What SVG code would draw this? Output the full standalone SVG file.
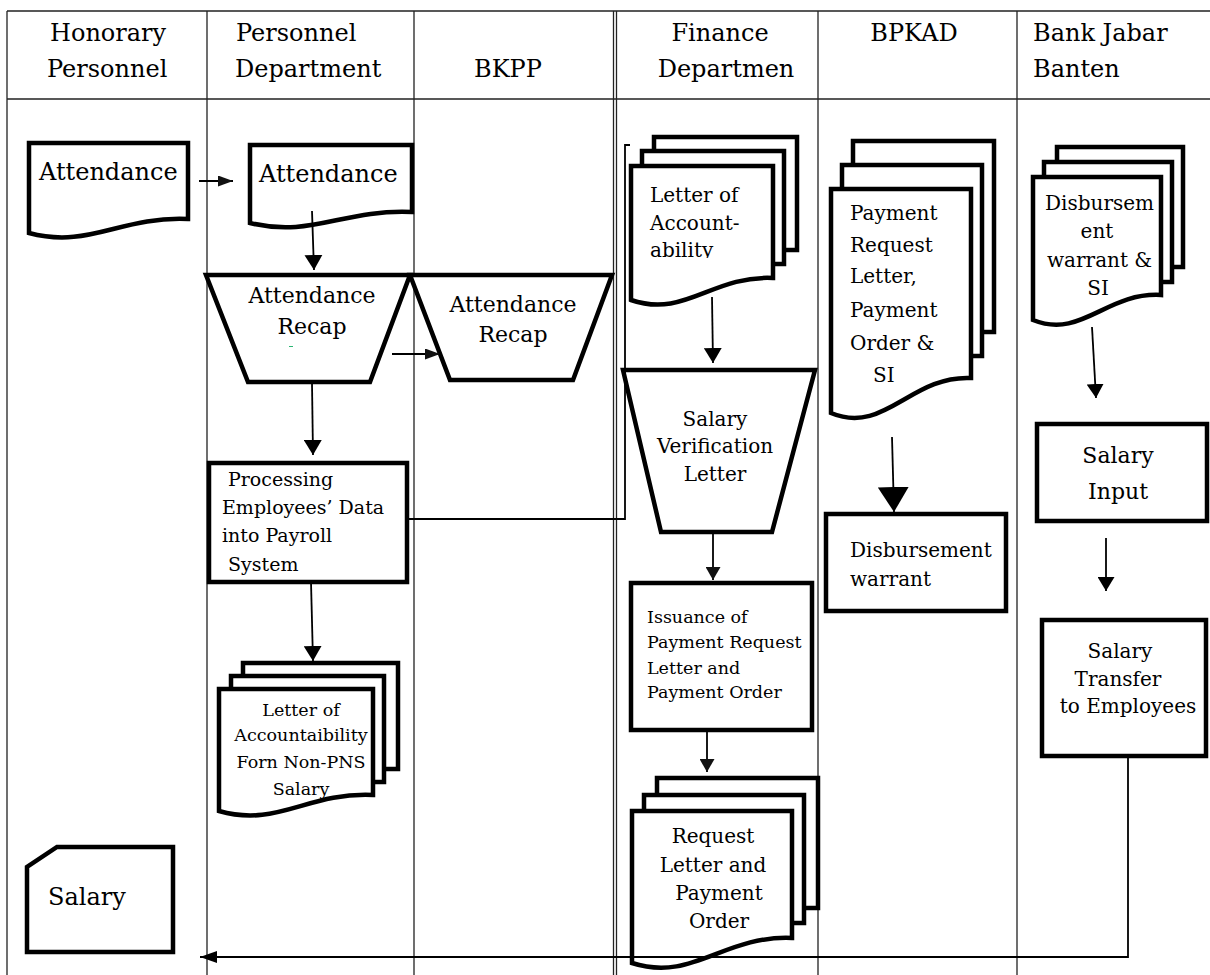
<svg xmlns="http://www.w3.org/2000/svg" width="1210" height="975" viewBox="0 0 1210 975">
<style>
.tbl{stroke:#222;stroke-width:1.3;fill:none}
.sh{fill:#fff;stroke:#000;stroke-width:4.5;stroke-linejoin:miter}
.cn{stroke:#000;stroke-width:1.8;fill:none}
text{font-family:"DejaVu Serif","Liberation Serif",serif;fill:#000}
.h{font-size:24px}
.t24{font-size:24px}
.t22{font-size:22px}
.t20{font-size:20px}
.t19{font-size:19px}
.t17{font-size:17.5px}
.m{text-anchor:middle}
</style>
<defs>
<marker id="aL" markerUnits="userSpaceOnUse" viewBox="0 0 15 18" markerWidth="15" markerHeight="18" refX="15" refY="9" orient="auto"><path d="M0,0 L15,9 L0,18 Z" fill="#000"/></marker>
<marker id="aS" markerUnits="userSpaceOnUse" viewBox="0 0 15 11" markerWidth="15" markerHeight="11" refX="15" refY="5.5" orient="auto"><path d="M0,0 L15,5.5 L0,11 Z" fill="#111"/></marker>
<marker id="aSm" markerUnits="userSpaceOnUse" viewBox="0 0 13 15" markerWidth="13" markerHeight="15" refX="13" refY="7.5" orient="auto"><path d="M0,0 L13,7.5 L0,15 Z" fill="#111"/></marker>
<marker id="aM" markerUnits="userSpaceOnUse" viewBox="0 0 14 17" markerWidth="14" markerHeight="17" refX="14" refY="8.5" orient="auto"><path d="M0,0 L14,8.5 L0,17 Z" fill="#000"/></marker>
<marker id="aB" markerUnits="userSpaceOnUse" viewBox="0 0 17 12" markerWidth="17" markerHeight="12" refX="17" refY="6" orient="auto"><path d="M0,0 L17,6 L0,12 Z" fill="#000"/></marker>
<marker id="aXL" markerUnits="userSpaceOnUse" viewBox="0 0 25 31" markerWidth="25" markerHeight="31" refX="25" refY="15.5" orient="auto"><path d="M0,0 L25,15.5 L0,31 Z" fill="#000"/></marker>
<clipPath id="clipLoA"><rect x="631" y="150" width="142" height="108"/></clipPath>
</defs>

<g id="table">
<path class="tbl" d="M7,11 H1210 M7,99 H1210 M7,11 V975 M207,11 V975 M414,11 V975 M613.5,11 V975 M616.5,11 V975 M818,11 V975 M1017,11 V975"/>
<text class="h" x="50" y="41">Honorary</text>
<text class="h" x="47" y="77">Personnel</text>
<text class="h" x="236" y="41">Personnel</text>
<text class="h" x="235" y="77">Department</text>
<text class="h" x="474" y="77">BKPP</text>
<text class="h m" x="720" y="41">Finance</text>
<text class="h m" x="726" y="77">Departmen</text>
<text class="h m" x="914" y="41">BPKAD</text>
<text class="h" x="1033" y="41">Bank Jabar</text>
<text class="h" x="1033" y="77">Banten</text>
</g>

<g id="n-attendance-honorary">
<path class="sh" d="M29,143 H188 V219 C119.6,216 89.4,249 29,233 Z"/>
<text class="t24" x="39" y="180">Attendance</text>
</g>

<g id="n-salary">
<path class="sh" d="M57,847 H173 V952 H27 V867 Z"/>
<text class="t24" x="48" y="905">Salary</text>
</g>

<g id="n-attendance-personnel">
<path class="sh" d="M250,145 H412 V212 C342.3,209 311.6,238 250,223 Z"/>
<text class="t24" x="259" y="182">Attendance</text>
</g>

<g id="n-recap-personnel">
<path class="sh" d="M206,275 H410 L370,382 H248 Z"/>
<text class="t22 m" x="312" y="303">Attendance</text>
<text class="t22 m" x="312" y="334">Recap</text>
<path d="M289,346.5 H293" stroke="#2bb673" stroke-width="1"/>
</g>

<g id="n-processing">
<rect class="sh" x="209" y="463" width="198" height="119"/>
<text class="t19" x="228" y="486">Processing</text>
<text class="t19" x="222" y="514">Employees’ Data</text>
<text class="t19" x="222" y="542">into Payroll</text>
<text class="t19" x="228" y="571">System</text>
</g>

<g id="n-loa-personnel">
<rect class="sh" x="243" y="663" width="155" height="106"/>
<rect class="sh" x="231" y="676" width="153" height="106"/>
<path class="sh" d="M219,689 H373 V795 C306.8,792 277.5,827.8 219,811 Z"/>
<text class="t17 m" x="301" y="716">Letter of</text>
<text class="t17 m" x="301" y="741">Accountaibility</text>
<text class="t17 m" x="301" y="768">Forn Non-PNS</text>
<text class="t17 m" x="301" y="795">Salary</text>
</g>

<g id="n-recap-bkpp">
<path class="sh" d="M410,275 H612 L573,380 H450 Z"/>
<text class="t22 m" x="513" y="312">Attendance</text>
<text class="t22 m" x="513" y="342">Recap</text>
</g>

<g id="n-loa-finance">
<rect class="sh" x="654" y="137" width="143" height="113"/>
<rect class="sh" x="642" y="151" width="142" height="113"/>
<path class="sh" d="M631,166 H773 V278 C712,275 685,318.6 631,300 Z"/>
<g clip-path="url(#clipLoA)">
<text class="t20" x="650" y="202">Letter of</text>
<text class="t20" x="650" y="230">Account-</text>
<text class="t20" x="650" y="257">ability</text>
</g>
</g>

<g id="n-verification">
<path class="sh" d="M623,370 H815 L772,532 H661 Z"/>
<text class="t20 m" x="715" y="426">Salary</text>
<text class="t20 m" x="715" y="453">Verification</text>
<text class="t20 m" x="715" y="481">Letter</text>
</g>

<g id="n-issuance">
<rect class="sh" x="631" y="583" width="181" height="147"/>
<text class="t17" x="647" y="623">Issuance of</text>
<text class="t17" x="647" y="648">Payment Request</text>
<text class="t17" x="647" y="674">Letter and</text>
<text class="t17" x="647" y="698">Payment Order</text>
</g>

<g id="n-request-letter">
<rect class="sh" x="657" y="778" width="161" height="130"/>
<rect class="sh" x="644" y="795" width="160" height="128"/>
<path class="sh" d="M632,811 H792 V938 C723.2,935 692.8,982.5 632,963 Z"/>
<text class="t20 m" x="713" y="843">Request</text>
<text class="t20 m" x="713" y="872">Letter and</text>
<text class="t20 m" x="719" y="900">Payment</text>
<text class="t20 m" x="719" y="928">Order</text>
</g>

<g id="n-payment-request">
<rect class="sh" x="853" y="141" width="141" height="191"/>
<rect class="sh" x="842" y="165" width="140" height="191"/>
<path class="sh" d="M831,189 H971 V378 C910.8,375 884.2,435.5 831,413 Z"/>
<text class="t20" x="850" y="220">Payment</text>
<text class="t20" x="850" y="252">Request</text>
<text class="t20" x="850" y="283">Letter,</text>
<text class="t20" x="850" y="317">Payment</text>
<text class="t20" x="850" y="350">Order &amp;</text>
<text class="t20" x="873" y="382">SI</text>
</g>

<g id="n-disbursement-warrant">
<rect class="sh" x="826" y="514" width="180" height="97"/>
<text class="t20" x="850" y="557">Disbursement</text>
<text class="t20" x="850" y="586">warrant</text>
</g>

<g id="n-disbursement-si">
<rect class="sh" x="1057" y="147" width="126" height="120"/>
<rect class="sh" x="1044" y="162" width="128" height="120"/>
<path class="sh" d="M1033,177 H1161 V295 C1106,292 1081.6,339.5 1033,320 Z"/>
<text class="t20" x="1045" y="210">Disbursem</text>
<text class="t20 m" x="1097" y="238">ent</text>
<text class="t20" x="1047" y="267">warrant &amp;</text>
<text class="t20 m" x="1098" y="295">SI</text>
</g>

<g id="n-salary-input">
<rect class="sh" x="1037" y="424" width="170" height="97"/>
<text class="t22 m" x="1118" y="463">Salary</text>
<text class="t22 m" x="1118" y="499">Input</text>
</g>

<g id="n-salary-transfer">
<rect class="sh" x="1042" y="620" width="164" height="136"/>
<text class="t20 m" x="1120" y="658">Salary</text>
<text class="t20 m" x="1118" y="686">Transfer</text>
<text class="t20 m" x="1128" y="713">to Employees</text>
</g>

<g id="connectors">
<path class="cn" d="M199,181 L233,181" marker-end="url(#aS)"/>
<path class="cn" d="M312,211 L314,270" marker-end="url(#aL)"/>
<path class="cn" d="M392,354 L440,354" marker-end="url(#aS)"/>
<path class="cn" d="M312,383 L313,455" marker-end="url(#aL)"/>
<path class="cn" d="M311,582 L313,661" marker-end="url(#aL)"/>
<path class="cn" d="M407,519 H625 V145 H630"/>
<path class="cn" d="M712,297 L713,363" marker-end="url(#aL)"/>
<path class="cn" d="M713,532 L713,580" marker-end="url(#aSm)"/>
<path class="cn" d="M707,730 L707,772" marker-end="url(#aSm)"/>
<path class="cn" d="M892,437 L894,512" stroke-width="3" marker-end="url(#aXL)"/>
<path class="cn" d="M1092,327 L1096,398" marker-end="url(#aM)"/>
<path class="cn" d="M1106,538 L1106,591" marker-end="url(#aM)"/>
<path class="cn" d="M1128,756 V957 H200" marker-end="url(#aB)"/>
</g>
</svg>
